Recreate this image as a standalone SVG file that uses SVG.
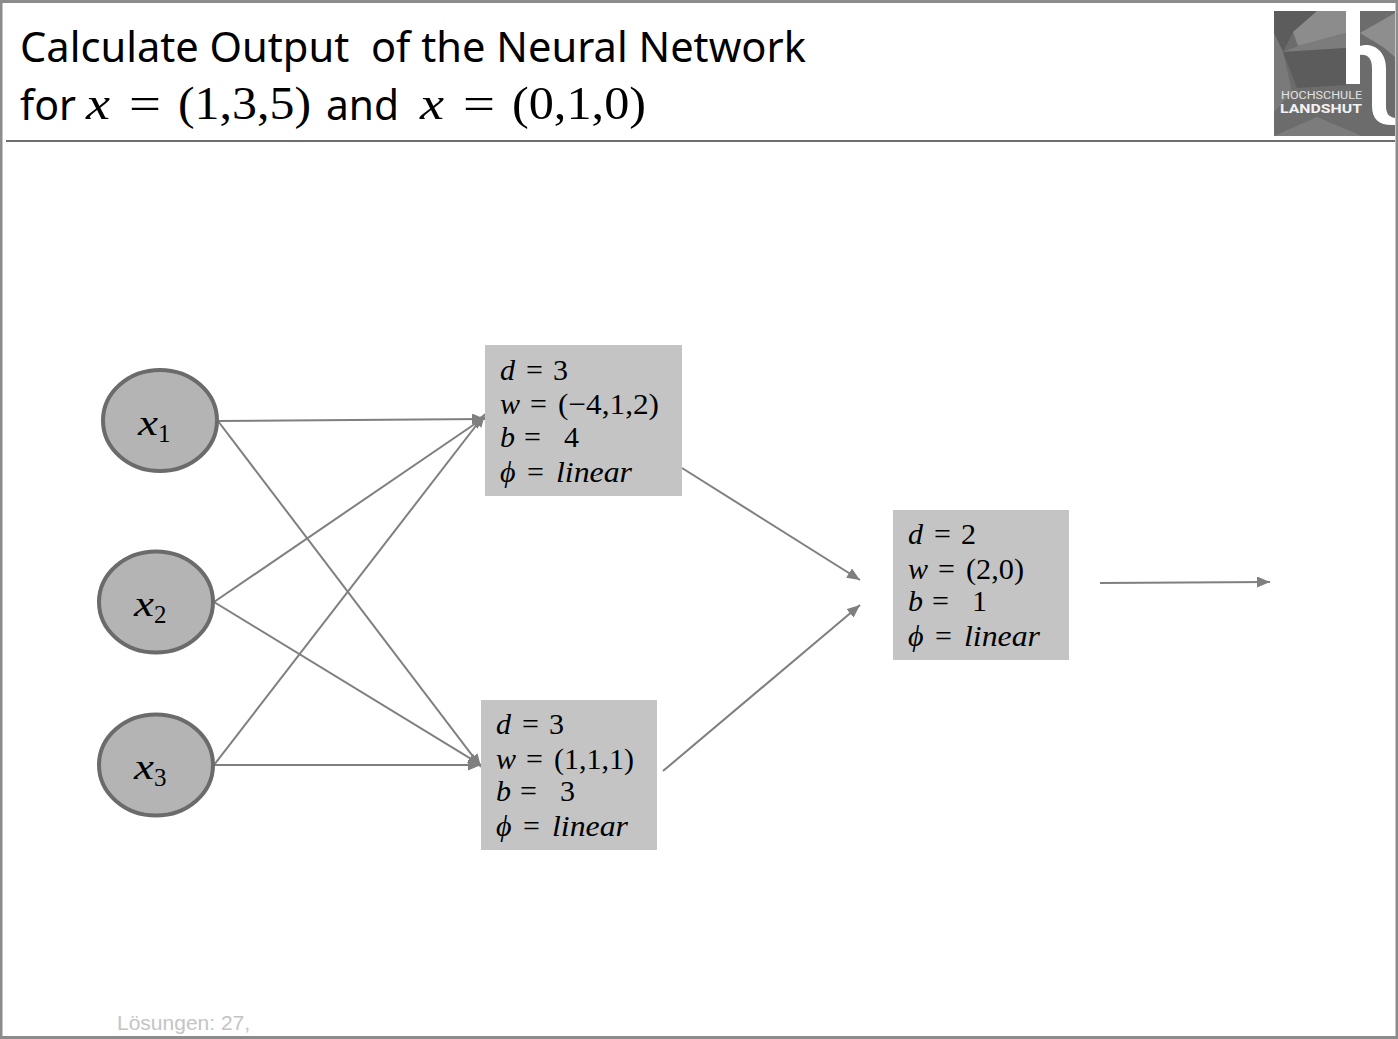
<svg xmlns="http://www.w3.org/2000/svg" width="1398" height="1039" viewBox="0 0 1398 1039">
<style>
.t{font-family:"Noto Sans","Open Sans",sans-serif;font-size:42px;fill:#000}
.m{font-family:"Liberation Serif","DejaVu Serif",serif;fill:#000}
.b{font-size:30px}
.i{font-style:italic}
.box{fill:#c4c4c4}
.n{fill:#b4b4b4;stroke:#6b6b6b;stroke-width:4}
.c{stroke:#7f7f7f;stroke-width:2;fill:none;marker-end:url(#a)}
</style>
<defs>
<marker id="a" markerUnits="userSpaceOnUse" markerWidth="14" markerHeight="12" refX="13" refY="5.500" orient="auto"><path d="M0 0L13 5.500L0 11Z" fill="#7f7f7f"/></marker>
</defs>
<rect width="1398" height="1039" fill="#fff"/>
<g id="frame">
<rect x="1" y="1.500" width="1396" height="1036" fill="none" stroke="#8c8c8c" stroke-width="3"/>
<rect x="6" y="140" width="1389" height="2" fill="#6e6e6e"/>
</g>
<g id="title">
<text class="t" x="20" y="62" textLength="786" lengthAdjust="spacingAndGlyphs" xml:space="preserve">Calculate Output  of the Neural Network</text>
<text class="t" x="20" y="120" textLength="56" lengthAdjust="spacingAndGlyphs">for</text>
<text class="m i" x="86" y="119" font-size="46" textLength="24" lengthAdjust="spacingAndGlyphs">x</text>
<text class="m" x="129" y="119" font-size="46" textLength="32" lengthAdjust="spacingAndGlyphs">=</text>
<text class="m" x="178" y="119" font-size="46" textLength="133" lengthAdjust="spacingAndGlyphs">(1,3,5)</text>
<text class="t" x="326" y="120" textLength="73" lengthAdjust="spacingAndGlyphs">and</text>
<text class="m i" x="420" y="119" font-size="46" textLength="24" lengthAdjust="spacingAndGlyphs">x</text>
<text class="m" x="463" y="119" font-size="46" textLength="32" lengthAdjust="spacingAndGlyphs">=</text>
<text class="m" x="512" y="119" font-size="46" textLength="134" lengthAdjust="spacingAndGlyphs">(0,1,0)</text>
</g>
<g id="logo">
<rect x="1274" y="11" width="121" height="125" fill="#6c6c6c"/>
<polygon points="1274,11 1317,11 1293,32 1283,52 1274,33" fill="#5c5c5c"/>
<polygon points="1293,32 1317,11 1346,11 1346,33 1298,46" fill="#8c8c8c"/>
<polygon points="1283,52 1298,46 1346,33 1346,48" fill="#7c7c7c"/>
<polygon points="1283,52 1346,48 1346,85 1297,88" fill="#5c5c5c"/>
<polygon points="1360,33 1395,13 1395,57 1383,47" fill="#8e8e8e"/>
<polygon points="1274,33 1283,52 1292,92 1274,112" fill="#7a7a7a"/>
<polygon points="1274,136 1317,117 1362,136" fill="#7c7c7c"/>
<path d="M1346 11H1360V46C1374 42 1386 52 1386 68V106C1386 114 1389 117 1395 118V125C1380 126 1372 120 1372 106V68C1372 58 1367 54 1360 55V84H1346Z" fill="#fff"/>
<text x="1281" y="99" font-family="Roboto,'Noto Sans',sans-serif" font-size="11.500" fill="#e2e2e2" textLength="81" lengthAdjust="spacingAndGlyphs">HOCHSCHULE</text>
<text x="1280" y="113" font-family="Roboto,'Noto Sans',sans-serif" font-size="13.500" font-weight="700" fill="#f2f2f2" textLength="82" lengthAdjust="spacingAndGlyphs">LANDSHUT</text>
</g>
<g id="connectors">
<line class="c" x1="218" y1="421" x2="485" y2="419"/>
<line class="c" x1="218" y1="421" x2="481" y2="767"/>
<line class="c" x1="214" y1="602" x2="485" y2="417"/>
<line class="c" x1="214" y1="602" x2="481" y2="765"/>
<line class="c" x1="214" y1="765" x2="485" y2="414"/>
<line class="c" x1="214" y1="765" x2="481" y2="765"/>
<line class="c" x1="682" y1="468" x2="860" y2="580"/>
<line class="c" x1="663" y1="771" x2="860" y2="605"/>
<line class="c" x1="1100" y1="583" x2="1270" y2="582"/>
</g>
<g id="x1">
<ellipse class="n" cx="160" cy="420.500" rx="57" ry="50.500"/>
<text class="m i" x="138" y="435" font-size="36" textLength="20" lengthAdjust="spacingAndGlyphs">x</text><text class="m" x="158" y="442" font-size="25">1</text>
</g>
<g id="x2">
<ellipse class="n" cx="156" cy="602" rx="57" ry="50.500"/>
<text class="m i" x="134" y="616" font-size="36" textLength="20" lengthAdjust="spacingAndGlyphs">x</text><text class="m" x="154" y="623" font-size="25">2</text>
</g>
<g id="x3">
<ellipse class="n" cx="156" cy="765" rx="57" ry="50.500"/>
<text class="m i" x="134" y="779" font-size="36" textLength="20" lengthAdjust="spacingAndGlyphs">x</text><text class="m" x="154" y="786" font-size="25">3</text>
</g>
<g id="neuron1">
<rect class="box" x="485" y="345" width="197" height="151"/>
<text class="m b" y="380"><tspan class="i" x="500">d</tspan><tspan x="526">=</tspan><tspan x="553">3</tspan></text>
<text class="m b" y="414"><tspan class="i" x="500">w</tspan><tspan x="530">=</tspan></text>
<text class="m b" x="558" y="414" textLength="101" lengthAdjust="spacingAndGlyphs">(−4,1,2)</text>
<text class="m b" y="447"><tspan class="i" x="500">b</tspan><tspan x="524">=</tspan><tspan x="564">4</tspan></text>
<text class="m b" y="482"><tspan class="i" x="500">ϕ</tspan><tspan x="527">=</tspan></text>
<text class="m b i" x="556" y="482" textLength="76" lengthAdjust="spacingAndGlyphs">linear</text>
</g>
<g id="neuron2">
<rect class="box" x="481" y="700" width="176" height="150"/>
<text class="m b" y="734"><tspan class="i" x="496">d</tspan><tspan x="522">=</tspan><tspan x="549">3</tspan></text>
<text class="m b" y="769"><tspan class="i" x="496">w</tspan><tspan x="526">=</tspan></text>
<text class="m b" x="554" y="769" textLength="80" lengthAdjust="spacingAndGlyphs">(1,1,1)</text>
<text class="m b" y="801"><tspan class="i" x="496">b</tspan><tspan x="520">=</tspan><tspan x="560">3</tspan></text>
<text class="m b" y="836"><tspan class="i" x="496">ϕ</tspan><tspan x="523">=</tspan></text>
<text class="m b i" x="552" y="836" textLength="76" lengthAdjust="spacingAndGlyphs">linear</text>
</g>
<g id="neuron3">
<rect class="box" x="893" y="510" width="176" height="150"/>
<text class="m b" y="544"><tspan class="i" x="908">d</tspan><tspan x="934">=</tspan><tspan x="961">2</tspan></text>
<text class="m b" y="579"><tspan class="i" x="908">w</tspan><tspan x="938">=</tspan></text>
<text class="m b" x="966" y="579" textLength="58" lengthAdjust="spacingAndGlyphs">(2,0)</text>
<text class="m b" y="611"><tspan class="i" x="908">b</tspan><tspan x="932">=</tspan><tspan x="972">1</tspan></text>
<text class="m b" y="646"><tspan class="i" x="908">ϕ</tspan><tspan x="935">=</tspan></text>
<text class="m b i" x="964" y="646" textLength="76" lengthAdjust="spacingAndGlyphs">linear</text>
</g>
<g id="footer">
<text x="117" y="1030" font-family="'Liberation Sans',Arial,sans-serif" font-size="21" fill="#c4c4c4">Lösungen: 27,</text>
</g>
</svg>
